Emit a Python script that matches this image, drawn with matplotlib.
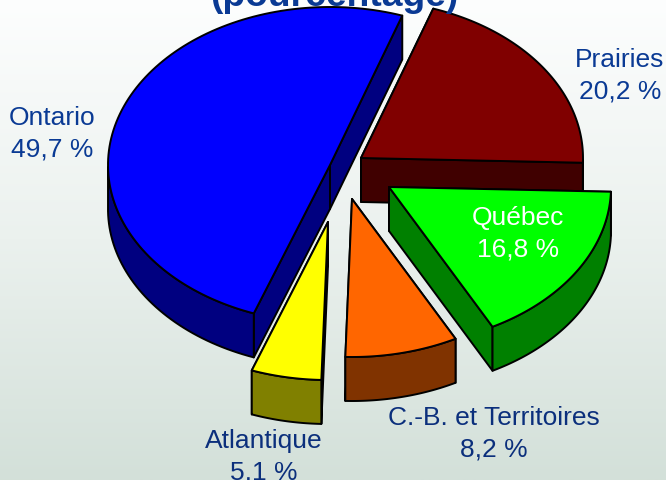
import numpy as np
import matplotlib
matplotlib.use('Agg')
import matplotlib.pyplot as plt
from matplotlib.colors import LinearSegmentedColormap
from matplotlib.patches import Polygon

regions = ["Ontario", "Atlantique", "C.-B. et Territoires", "Québec", "Prairies"]
shares = [49.7, 5.1, 8.2, 16.8, 20.2]

# ── pie layout, in picture pixels ────────────────────────────────────
START = 71.0
RX, RY = 222, 158
DEPTH = 44
centers = {
    "Ontario": (330, 166),
    "Atlantique": (328, 223),
    "C.-B. et Territoires": (352, 200),
    "Québec": (389, 188),
    "Prairies": (361, 159),
}
top_colors = {
    "Ontario": "#0000ff",
    "Atlantique": "#ffff00",
    "C.-B. et Territoires": "#ff6600",
    "Québec": "#00ff00",
    "Prairies": "#800000",
}
side_colors = {
    "Ontario": "#000080",
    "Atlantique": "#808000",
    "C.-B. et Territoires": "#803300",
    "Québec": "#008000",
    "Prairies": "#400000",
}
label_pos = {
    "Ontario": (52, 118),
    "Atlantique": (264, 441),
    "C.-B. et Territoires": (494, 418),
    "Québec": (518, 218),
    "Prairies": (620, 60),
}
draw_order = ["Prairies", "Ontario", "Atlantique", "C.-B. et Territoires", "Québec"]

fig = plt.figure(figsize=(6.66, 4.81), dpi=100)
ax = fig.add_axes([0, 0, 1, 1])
ax.set_xlim(0, 666)
ax.set_ylim(481, 0)
ax.axis("off")

# Background gradient
bg = LinearSegmentedColormap.from_list("bg", ["#fdfefe", "#ebf1ee", "#d3e0d9"])
ax.imshow(np.linspace(0, 1, 256).reshape(-1, 1), cmap=bg, aspect="auto",
          extent=(0, 666, 481, 0), zorder=0)


def ellipse_pts(cx, cy, a0, a1):
    t = np.radians(np.linspace(a0, a1, 120))
    return np.column_stack([cx + RX * np.cos(t), cy - RY * np.sin(t)])


def add_poly(pts, color):
    ax.add_patch(Polygon(pts, closed=True, facecolor=color, edgecolor="black",
                         linewidth=1.4, joinstyle="round"))


# Slice angles come from the shares
angles = {}
a = START
for name, v in zip(regions, shares):
    angles[name] = (a, a + v * 3.6)
    a += v * 3.6

down = np.array([0, DEPTH])
for name in draw_order:
    a0, a1 = angles[name]
    cx, cy = centers[name]
    apex = np.array([cx, cy], dtype=float)
    arc = ellipse_pts(cx, cy, a0, a1)
    side = side_colors[name]

    # cut faces, the back one first
    for edge in sorted([arc[0], arc[-1]], key=lambda p: p[1]):
        add_poly([apex, edge, edge + down, apex + down], side)

    # outer rim, only the part facing the viewer
    t = np.radians(np.linspace(a0, a1, 120))
    front = arc[np.sin(t) <= 0]
    if len(front) > 1:
        add_poly(np.vstack([front, (front + down)[::-1]]), side)

    add_poly(np.vstack([apex, arc]), top_colors[name])

# Labels
for name, v in zip(regions, shares):
    x, y = label_pos[name]
    color = "white" if name == "Québec" else "#0a3a94"
    if name in ("Atlantique", "C.-B. et Territoires"):
        color = "#0b2f7c"
    value = f"{v:.1f} %".replace(".", ",")
    ax.text(x, y, name, ha="center", va="center", fontsize=19.0,
            family="Liberation Sans", color=color)
    ax.text(x, y + 32, value, ha="center", va="center", fontsize=19.0,
            family="Liberation Sans", color=color)

# cut off by the top edge, as in the source slide
ax.text(334, 6, "(pourcentage)", ha="center", va="baseline", fontsize=26.8,
        fontweight="bold", family="Liberation Sans", color="#0a3a94")

fig.savefig("out.png", dpi=100)
